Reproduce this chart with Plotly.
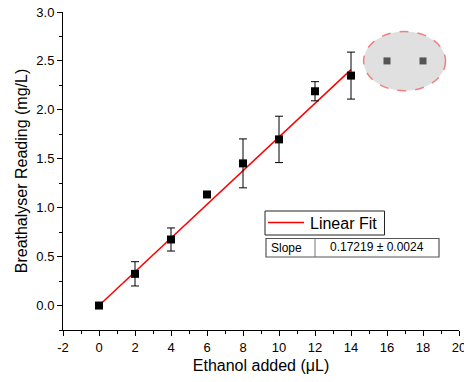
import plotly.graph_objects as go

# Measurements: ethanol volume vs breathalyser reading
ethanol_ul = [0, 2, 4, 6, 8, 10, 12, 14]
reading_mgl = [0.0, 0.324, 0.675, 1.135, 1.453, 1.698, 2.19, 2.35]
reading_err = [0.0, 0.124, 0.118, 0.0, 0.25, 0.237, 0.098, 0.24]

# Linear fit through the origin
slope = 0.17219
slope_err = 0.0024
fit_x = [0, 14]
fit_y = [slope * x for x in fit_x]

# Grey markers inside the ellipse
extra_x = [16, 18]
extra_y = [2.5, 2.5]

# Axis tick labels
x_tickvals = [-2, 0, 2, 4, 6, 8, 10, 12, 14, 16, 18, 20]
x_ticktext = ["-2", "0", "2", "4", "6", "8", "10", "12", "14", "16", "18", "20"]

font = "Liberation Sans, Arial, sans-serif"

fig = go.Figure()

fig.add_trace(go.Scatter(
    x=fit_x, y=fit_y, mode="lines", name="Linear Fit",
    line=dict(color="#ff0000", width=1.5), showlegend=False,
))
fig.add_trace(go.Scatter(
    x=ethanol_ul, y=reading_mgl, mode="markers", showlegend=False,
    marker=dict(symbol="square", size=8, color="black"),
    error_y=dict(type="data", array=reading_err, visible=True,
                 color="black", thickness=1, width=4),
))

# Ellipse with two grey squares
fig.add_shape(type="circle", xref="x", yref="y",
              x0=14.7, x1=19.25, y0=2.195, y1=2.80,
              fillcolor="#e0e0e0",
              line=dict(color="#f08080", width=1.5, dash="dash"),
              layer="below")
fig.add_trace(go.Scatter(
    x=extra_x, y=extra_y, mode="markers", showlegend=False,
    marker=dict(symbol="square", size=7, color="#555555"),
))

# Pixel -> paper helpers for the legend box and slope table
px0, px1 = 63, 459
py0, py1 = 12, 330


def xp(px):
    return (px - px0) / (px1 - px0)


def yp(py):
    return 1 - (py - py0) / (py1 - py0)


# Legend box for the fit line
fig.add_shape(type="rect", xref="paper", yref="paper",
              x0=xp(265), x1=xp(384.5), y0=yp(235), y1=yp(211),
              line=dict(color="#222222", width=1), fillcolor="white")
fig.add_shape(type="line", xref="paper", yref="paper",
              x0=xp(268), x1=xp(304), y0=yp(222.5), y1=yp(222.5),
              line=dict(color="#ff0000", width=1.5))
fig.add_annotation(xref="paper", yref="paper", x=xp(308), y=yp(223),
                   text="Linear Fit", showarrow=False, xanchor="left",
                   yanchor="middle", font=dict(family=font, size=16, color="black"))

# Slope table
fig.add_shape(type="rect", xref="paper", yref="paper",
              x0=xp(266), x1=xp(439), y0=yp(257), y1=yp(238.5),
              line=dict(color="#555555", width=1.2), fillcolor="white")
fig.add_shape(type="line", xref="paper", yref="paper",
              x0=xp(315), x1=xp(315), y0=yp(257), y1=yp(238.5),
              line=dict(color="#777777", width=1))
fig.add_annotation(xref="paper", yref="paper", x=xp(269), y=yp(247.5),
                   text="Slope", showarrow=False, xanchor="left",
                   yanchor="middle", font=dict(family=font, size=12, color="black"))
fig.add_annotation(xref="paper", yref="paper", x=xp(377), y=yp(247),
                   text=f"{slope} \u00b1 {slope_err}", showarrow=False,
                   xanchor="center", yanchor="middle",
                   font=dict(family=font, size=12, color="black"))

axis_common = dict(
    showline=True, linecolor="black", linewidth=1,
    ticks="outside", ticklen=5, tickcolor="black", tickwidth=1,
    showgrid=False, zeroline=False, ticklabeloverflow="allow",
    automargin=False,
    tickfont=dict(family=font, size=13, color="black"),
)

fig.update_xaxes(
    range=[-2, 20], tickmode="array", tickvals=x_tickvals, ticktext=x_ticktext,
    minor=dict(dtick=1, tick0=0, ticks="outside", ticklen=3, tickcolor="black"),
    title=dict(text="Ethanol added (\u03bcL)", font=dict(family=font, size=16, color="black"), standoff=6),
    **axis_common,
)
fig.update_yaxes(
    range=[-0.25, 3.0], dtick=0.5, tick0=0, tickformat=".1f",
    minor=dict(dtick=0.25, ticks="outside", ticklen=3, tickcolor="black"),
    title=dict(text="Breathalyser Reading (mg/L)", font=dict(family=font, size=16, color="black"), standoff=4),
    **axis_common,
)

fig.update_layout(
    width=464, height=382,
    margin=dict(l=px0, r=464 - px1, t=py0, b=382 - py1),
    paper_bgcolor="white", plot_bgcolor="white",
)

fig.write_html("out.html")
